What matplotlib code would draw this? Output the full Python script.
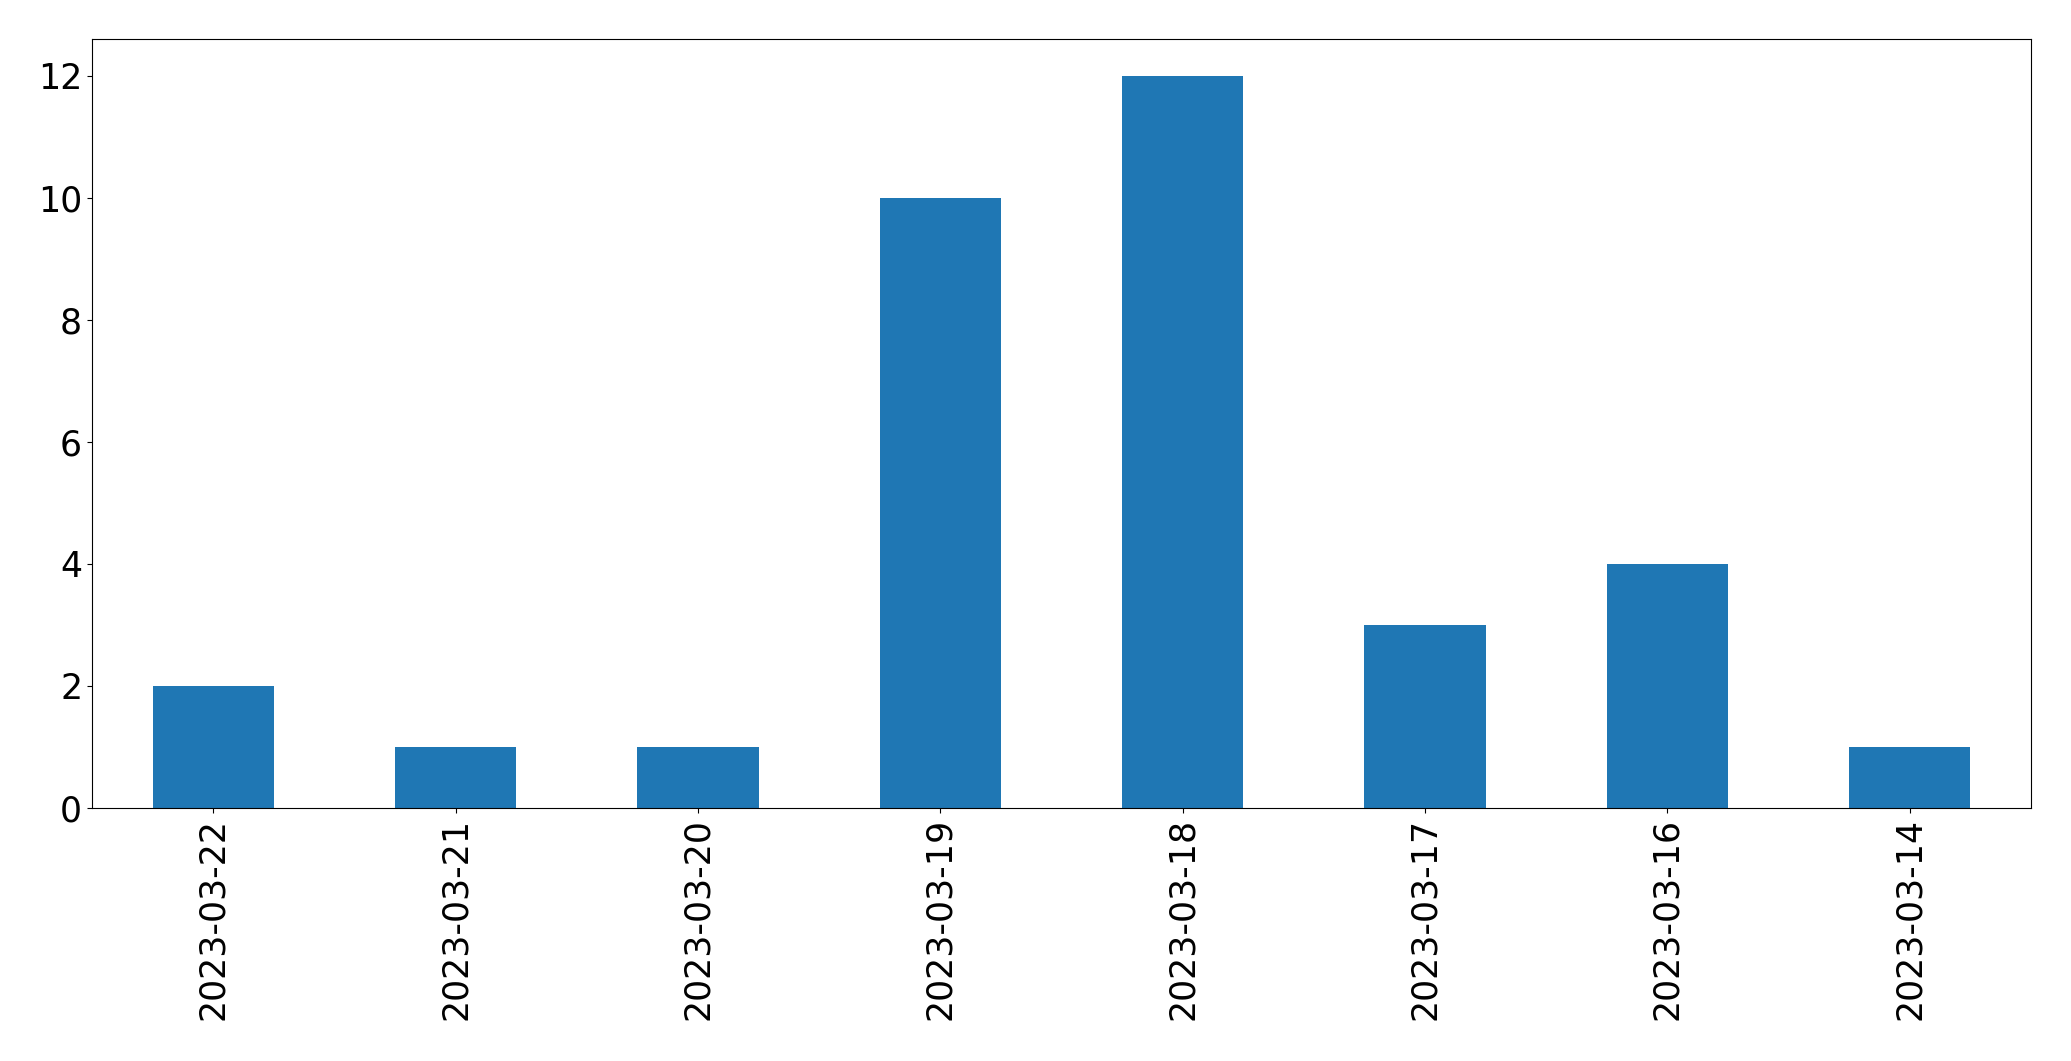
import matplotlib
matplotlib.use("Agg")
import matplotlib.pyplot as plt
import numpy as np

dates = ["2023-03-22", "2023-03-21", "2023-03-20", "2023-03-19",
         "2023-03-18", "2023-03-17", "2023-03-16", "2023-03-14"]
counts = [2, 1, 1, 10, 12, 3, 4, 1]

fig = plt.figure(figsize=(20.71, 10.61), dpi=100)
ax = fig.add_axes([0.0444, 0.2385, 0.9363, 0.7245])
x = np.arange(len(dates))
ax.bar(x, counts, width=0.5, color="#1f77b4")
ax.set_xlim(-0.5, len(dates) - 0.5)
ax.set_ylim(0, 12.6)
ax.set_xticks(x)
ax.set_xticklabels(dates, rotation=90, fontsize=25)
ax.set_yticks([0, 2, 4, 6, 8, 10, 12])
ax.tick_params(axis="y", labelsize=25)
fig.savefig("out.png", dpi=100)
